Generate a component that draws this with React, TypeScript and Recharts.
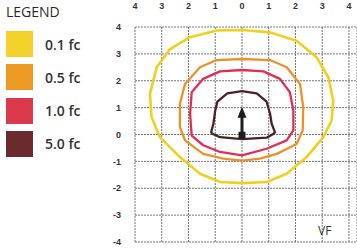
import { CartesianGrid, Scatter, ScatterChart, XAxis, YAxis } from "recharts";

type Pt = { x: number; y: number };

const legendLabels = ["0.1 fc", "0.5 fc", "1.0 fc", "5.0 fc"];
const swatchColors = ["#f4d12a", "#ec9a23", "#dc3a4c", "#6b2a2e"];
const lineColors = ["#f0d01c", "#ea9229", "#e02f55", "#4a2224"];
const xTicks = [-4, -3, -2, -1, 0, 1, 2, 3, 4];
const yTicks = [-4, -3, -2, -1, 0, 1, 2, 3, 4];

// iso-footcandle contours, [x, y] in grid units, traced clockwise from top
const contour01: [number, number][] = [
  [0, 3.89], [1.05, 3.8], [2.04, 3.49], [2.79, 2.87], [3.23, 2.13], [3.41, 1.26],
  [3.35, 0.52], [3.04, -0.1], [2.42, -0.84], [1.67, -1.46], [0.92, -1.77], [0.04, -1.81],
  [-0.82, -1.77], [-1.57, -1.46], [-2.32, -0.84], [-3.07, -0.1], [-3.38, 0.64],
  [-3.44, 1.51], [-3.19, 2.5], [-2.69, 3.18], [-1.94, 3.62], [-0.95, 3.87],
];
const contour05: [number, number][] = [
  [0, 2.81], [1.05, 2.77], [1.67, 2.5], [2.17, 1.88], [2.29, 1.02], [2.27, 0.15],
  [2.04, -0.35], [1.3, -0.72], [0.67, -0.9], [0, -0.97], [-0.7, -0.9], [-1.45, -0.72],
  [-2.13, -0.22], [-2.32, 0.27], [-2.32, 1.14], [-2.13, 1.88], [-1.57, 2.5], [-0.95, 2.77],
];
const contour10: [number, number][] = [
  [0, 2.4], [0.8, 2.35], [1.42, 2.07], [1.79, 1.57], [1.92, 0.89], [1.92, 0.15],
  [1.67, -0.22], [0.92, -0.53], [0, -0.78], [-0.82, -0.65], [-1.45, -0.4], [-1.88, -0.04],
  [-1.94, 0.77], [-1.88, 1.57], [-1.45, 2.07], [-0.82, 2.35],
];
const contour50: [number, number][] = [
  [0, 1.61], [0.55, 1.53], [0.92, 1.22], [1.05, 0.77], [1.11, 0.4], [1.23, 0.09],
  [1.2, 0.04], [0.92, -0.12], [0, -0.17], [-0.82, -0.1], [-1.13, 0.04], [-1.15, 0.09],
  [-1.07, 0.4], [-1.0, 0.89], [-0.92, 1.22], [-0.55, 1.53],
];
const arrowPts: [number, number][] = [[0, -0.03], [0, 0.66]];

const contours = [contour01, contour05, contour10, contour50];

const toPts = (pts: [number, number][]): Pt[] => pts.map(([x, y]) => ({ x, y }));

const NoDot = () => <g />;

const ArrowMark = (props: any) => {
  const { cx, cy, payload } = props;
  if (payload.y > 0) {
    return <polygon points={`${cx},${cy - 10} ${cx - 4.5},${cy + 1} ${cx + 4.5},${cy + 1}`} fill="#1e1e1e" />;
  }
  return <rect x={cx - 3.5} y={cy - 3.5} width={7} height={7} fill="#1e1e1e" />;
};

export default function App() {
  return (
    <div style={{ position: "absolute", left: 0, top: 0, width: 357, height: 252, background: "#fff" }}>
      <ScatterChart width={357} height={252} margin={{ top: 7, right: 0, bottom: 10, left: 95 }}>
        <CartesianGrid stroke="#666" strokeDasharray="2 1" strokeWidth={0.9} />
        <XAxis
          dataKey="x"
          type="number"
          orientation="top"
          domain={[-4, 4.3]}
          ticks={xTicks}
          tickFormatter={(v: number) => String(Math.abs(v))}
          tick={{ fontSize: 9, fill: "#333", fontWeight: "bold", fontFamily: "Liberation Sans" }}
          tickLine={false}
          axisLine={false}
          tickSize={0}
          tickMargin={18}
          height={20}
          allowDataOverflow
        />
        <YAxis
          dataKey="y"
          type="number"
          domain={[-4, 4]}
          ticks={yTicks}
          tick={{ fontSize: 9, fill: "#333", fontWeight: "bold", fontFamily: "Liberation Sans" }}
          tickLine={false}
          axisLine={false}
          tickSize={0}
          tickMargin={14}
          width={40}
        />
        {contours.map((c, i) => (
          <Scatter
            key={legendLabels[i]}
            data={toPts(c)}
            line={{ stroke: lineColors[i], strokeWidth: i === 0 ? 2.6 : 2.3, strokeLinejoin: "round" }}
            lineJointType="linearClosed"
            shape={NoDot}
            isAnimationActive={false}
          />
        ))}
        <Scatter
          data={toPts(arrowPts)}
          line={{ stroke: "#1e1e1e", strokeWidth: 3 }}
          shape={ArrowMark}
          isAnimationActive={false}
        />
      </ScatterChart>

      <div style={{ position: "absolute", left: 6, top: 2, fontFamily: "Open Sans", fontSize: 14, fontWeight: 500, color: "#2a2a2a" }}>
        LEGEND
      </div>
      {legendLabels.map((l, i) => (
        <div key={l} style={{ position: "absolute", left: 6, top: 31 + i * 33.3, display: "flex", alignItems: "center" }}>
          <div style={{ width: 27, height: 26, background: swatchColors[i] }} />
          <span style={{ marginLeft: 12, fontFamily: "Open Sans", fontSize: 14, fontWeight: 600, color: "#333" }}>{l}</span>
        </div>
      ))}
      <div style={{ position: "absolute", left: 318, top: 222, fontFamily: "Open Sans", fontSize: 12, color: "#333" }}>
        VF
      </div>
    </div>
  );
}
